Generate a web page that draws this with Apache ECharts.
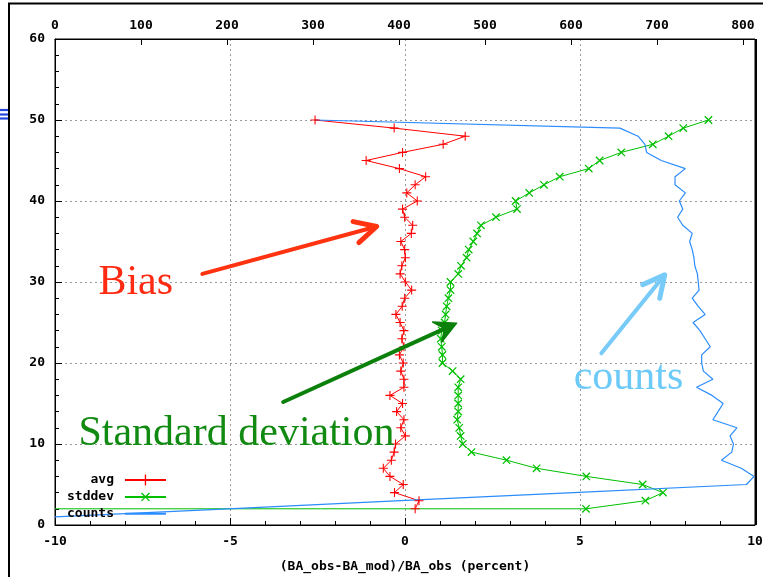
<!DOCTYPE html>
<html>
<head>
<meta charset="utf-8">
<script src="https://cdn.jsdelivr.net/npm/echarts@6/dist/echarts.min.js"></script>
<style>
  html, body { margin: 0; padding: 0; background: #fff; }
  #chart { width: 769px; height: 577px; }
</style>
</head>
<body>
<div id="chart"></div>
<script>
// Model levels (vertical axis), top to bottom
const levels = [50, 49, 48, 47, 46, 45, 44, 43, 42, 41,
                40, 39, 38, 37, 36, 35, 34, 33, 32, 31,
                30, 29, 28, 27, 26, 25, 24, 23, 22, 21,
                20, 19, 18, 17, 16, 15, 14, 13, 12, 11,
                10, 9, 8, 7, 6, 5, 4, 3, 2];

// Mean relative difference (percent) per level
const avg = [-2.57, -0.31, 1.72, 1.09, -0.07, -1.11, -0.16, 0.59, 0.29, 0.05,
             0.35, -0.07, -0.01, 0.22, 0.18, -0.12, -0.01, 0.01, -0.09, -0.14,
             0.01, 0.19, -0.01, -0.08, -0.26, -0.14, -0.03, -0.09, -0.03, -0.16,
             -0.05, -0.12, -0.03, -0.03, -0.43, -0.07, -0.24, -0.03, -0.12, 0.01,
             -0.27, -0.31, -0.39, -0.62, -0.43, -0.05, -0.30, 0.40, 0.29];

// Standard deviation (percent) per level
const stddev = [8.67, 7.95, 7.53, 7.08, 6.18, 5.56, 5.25, 4.42, 3.97, 3.55,
                3.16, 3.20, 2.60, 2.17, 2.06, 1.95, 1.82, 1.76, 1.60, 1.52,
                1.30, 1.30, 1.24, 1.19, 1.16, 1.13, 1.05, 1.02, 1.05, 1.07,
                1.07, 1.36, 1.59, 1.52, 1.52, 1.52, 1.52, 1.49, 1.55, 1.59,
                1.65, 1.90, 2.90, 3.76, 5.18, 6.79, 7.37, 6.87, 5.17];
// the stddev trace runs off the left edge along the lowest level
const stddevTail = [-10, 2];

// Number of samples per level (top axis)
const countLevels = [50, 49, 48, 47, 46, 45, 44, 43, 42, 41,
                     40, 39, 38, 37, 36, 35, 34, 33, 32, 31,
                     30, 29, 28, 27, 26, 25, 24, 23, 22, 21,
                     20, 19, 18, 17, 16, 15, 14, 13, 12, 11,
                     10, 9, 8, 7, 6, 5, 4, 3, 2, 1];
const counts = [302, 657, 678, 686, 688, 705, 733, 721, 721, 733,
                726, 730, 724, 730, 741, 738, 741, 743, 744, 747,
                748, 749, 741, 748, 756, 742, 750, 756, 762, 752,
                752, 754, 765, 746, 764, 777, 771, 765, 793, 785,
                789, 787, 775, 798, 813, 804, 603, 402, 201, 0];

const seriesNames = ['avg', 'stddev', 'counts'];
const xTitle = '(BA_obs-BA_mod)/BA_obs (percent)';

// Hand-drawn style callouts, placed in data coordinates of the bottom/left axes
const callouts = [
  { text: 'Bias', at: [-8.76, 29.9], color: '#ff2a12' },
  { text: 'Standard deviation', at: [-9.33, 11.25], color: '#118a11' },
  { text: 'counts', at: [4.82, 18.2], color: '#6ccaf8' }
];
const arrows = [
  { from: [-5.79, 31.0], to: [-0.81, 36.85], color: '#ff3310', head: 'open' },
  { from: [-3.48, 15.19], to: [1.475, 24.92], color: '#0b800b', head: 'filled' },
  { from: [5.61, 21.21], to: [7.42, 30.88], color: '#78cbf8', head: 'open' }
];

const PLUS = 'path://M4.4,0H5.6V4.4H10V5.6H5.6V10H4.4V5.6H0V4.4H4.4Z';
const tickFont = { fontFamily: 'DejaVu Sans Mono', fontWeight: 'bold', fontSize: 13, color: '#000' };
const gridDash = { color: '#9a9a9a', width: 1, type: [2, 3] };

const chart = echarts.init(document.getElementById('chart'), null, { renderer: 'canvas' });

const stddevData = levels.map((lv, i) => [stddev[i], lv]);
stddevData.push({ value: stddevTail, symbol: 'none' });

chart.setOption({
  animation: false,
  backgroundColor: '#fff',
  grid: {
    left: 55, right: 14, top: 39, bottom: 52,
    containLabel: false, outerBoundsMode: 'none',
    show: true, borderColor: '#000', borderWidth: 1, backgroundColor: 'transparent'
  },
  legend: {
    data: [
      { name: seriesNames[0] },
      { name: seriesNames[1] },
      { name: seriesNames[2], itemStyle: { opacity: 0 } }
    ],
    orient: 'vertical',
    align: 'right',
    left: 67, top: 473,
    padding: 0,
    itemWidth: 41, itemHeight: 14, itemGap: 2,
    textStyle: Object.assign({}, tickFont, { padding: [0, 6, 0, 0], lineHeight: 14 })
  },
  xAxis: [
    {
      type: 'value', position: 'bottom', min: -10, max: 10, interval: 5,
      name: xTitle, nameLocation: 'middle', nameGap: 35,
      nameTextStyle: tickFont,
      axisLine: { show: true, onZero: false, lineStyle: { color: '#000', width: 1 } },
      axisTick: { show: true, inside: true, length: 7, lineStyle: { color: '#000' } },
      minorTick: { show: true, splitNumber: 5, length: 4, lineStyle: { color: '#000' } },
      axisLabel: Object.assign({ margin: 10 }, tickFont),
      splitLine: { show: true, showMinLine: false, showMaxLine: false, lineStyle: gridDash }
    },
    {
      type: 'value', position: 'top', min: 0, max: 814, interval: 100,
      axisLine: { show: true, onZero: false, lineStyle: { color: '#000', width: 1 } },
      axisTick: { show: true, inside: true, length: 6, lineStyle: { color: '#000' } },
      axisLabel: Object.assign({ margin: 7, showMaxLabel: false }, tickFont),
      splitLine: { show: false }
    }
  ],
  yAxis: [
    {
      type: 'value', min: 0, max: 60, interval: 10,
      axisLine: { show: true, onZero: false, lineStyle: { color: '#000', width: 1 } },
      axisTick: { show: true, inside: true, length: 7, lineStyle: { color: '#000' } },
      minorTick: { show: true, splitNumber: 5, length: 4, lineStyle: { color: '#000' } },
      axisLabel: Object.assign({ margin: 10 }, tickFont),
      splitLine: { show: true, showMinLine: false, showMaxLine: false, lineStyle: gridDash }
    }
  ],
  series: [
    {
      name: seriesNames[0], type: 'line', xAxisIndex: 0, yAxisIndex: 0,
      data: levels.map((lv, i) => [avg[i], lv]),
      symbol: PLUS, symbolSize: 9, showSymbol: true,
      lineStyle: { color: '#ff0000', width: 1 },
      itemStyle: { color: '#ff0000' },
      emphasis: { disabled: true }
    },
    {
      name: seriesNames[1], type: 'line', xAxisIndex: 0, yAxisIndex: 0,
      data: stddevData,
      symbol: PLUS, symbolSize: 10.5, symbolRotate: 45, showSymbol: true,
      lineStyle: { color: '#00c000', width: 1 },
      itemStyle: { color: '#00c000' },
      emphasis: { disabled: true }
    },
    {
      name: seriesNames[2], type: 'line', xAxisIndex: 1, yAxisIndex: 0,
      data: countLevels.map((lv, i) => [counts[i], lv]),
      symbol: 'none',
      lineStyle: { color: '#2a8cff', width: 1.2 },
      itemStyle: { color: '#2a8cff' },
      emphasis: { disabled: true }
    }
  ]
});

// Callout text and arrows, converted from data space to pixels
function toPx(p) {
  return chart.convertToPixel({ xAxisIndex: 0, yAxisIndex: 0 }, p);
}

function arrowElements(a) {
  const p0 = toPx(a.from), p1 = toPx(a.to);
  const ang = Math.atan2(p1[1] - p0[1], p1[0] - p0[0]);
  const len = 24, half = 27 * Math.PI / 180;
  const back = ang + Math.PI;
  const w1 = [p1[0] + len * Math.cos(back - half), p1[1] + len * Math.sin(back - half)];
  const w2 = [p1[0] + len * Math.cos(back + half), p1[1] + len * Math.sin(back + half)];
  const out = [];
  if (a.head === 'filled') {
    const notch = [p1[0] + 0.55 * len * Math.cos(back), p1[1] + 0.55 * len * Math.sin(back)];
    out.push({ type: 'polyline', z: 100, shape: { points: [p0, notch] },
      style: { stroke: a.color, lineWidth: 4, fill: null, lineCap: 'round' } });
    out.push({ type: 'polygon', z: 100, shape: { points: [w1, p1, w2, notch] },
      style: { fill: a.color, stroke: a.color, lineWidth: 1.5, lineJoin: 'round' } });
  } else {
    out.push({ type: 'polyline', z: 100, shape: { points: [p0, p1] },
      style: { stroke: a.color, lineWidth: 4, fill: null, lineCap: 'round' } });
    out.push({ type: 'polyline', z: 100, shape: { points: [w1, p1, w2] },
      style: { stroke: a.color, lineWidth: 5, fill: null, lineCap: 'round', lineJoin: 'round' } });
  }
  return out;
}

const overlay = [];
callouts.forEach(c => {
  const p = toPx(c.at);
  overlay.push({
    type: 'text', z: 100,
    style: {
      x: p[0], y: p[1], text: c.text,
      font: '42px "Liberation Serif", "Times New Roman", serif',
      fill: c.color, align: 'left', verticalAlign: 'middle'
    }
  });
});
arrows.forEach(a => { arrowElements(a).forEach(e => overlay.push(e)); });

// Page frame and the small bar mark at the left margin
overlay.push({ type: 'polyline', z: 90, shape: { points: [[9, 577], [9, 3.5], [763, 3.5]] },
  style: { stroke: '#000', lineWidth: 2, fill: null } });
overlay.push({ type: 'line', z: 90, shape: { x1: 756, y1: 39, x2: 756, y2: 525 },
  style: { stroke: '#000', lineWidth: 2 } });
[110, 114.5, 118.5].forEach(y => {
  overlay.push({ type: 'line', z: 90, shape: { x1: 0, y1: y, x2: 8, y2: y },
    style: { stroke: '#2346dc', lineWidth: 2.2 } });
});

chart.setOption({ graphic: { elements: overlay } });
</script>
</body>
</html>
